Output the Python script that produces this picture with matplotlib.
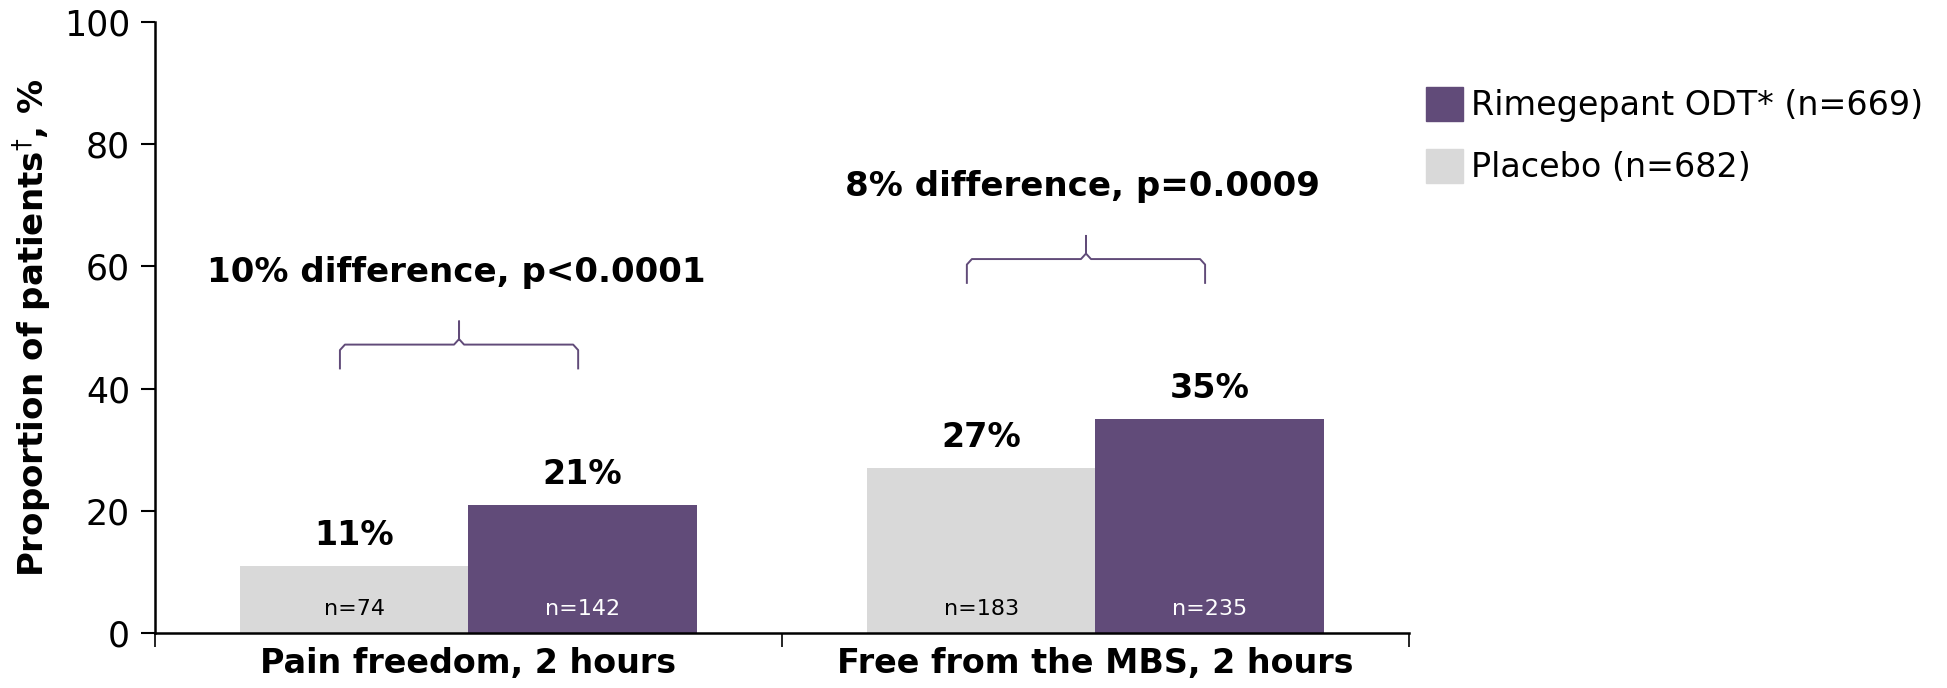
import matplotlib.pyplot as plt
import numpy as np
from matplotlib.patches import Patch

categories = ["Pain freedom, 2 hours", "Free from the MBS, 2 hours"]
placebo = [11, 27]
rimegepant = [21, 35]
placebo_n = [74, 183]
rimegepant_n = [142, 235]
diff_labels = ["10% difference, p<0.0001", "8% difference, p=0.0009"]

purple = "#614B79"
grey = "#D9D9D9"

plt.rcParams['font.family'] = 'DejaVu Sans'

fig = plt.figure(figsize=(19.47, 6.88), dpi=100)
ax = fig.add_axes([0.0796, 0.080, 0.644, 0.888])

x = np.arange(len(categories))
w = 0.364
ax.bar(x - w / 2, placebo, w, color=grey)
ax.bar(x + w / 2, rimegepant, w, color=purple)

for i in range(len(categories)):
    ax.text(x[i] - w / 2, placebo[i] + 5, f"{placebo[i]}%", ha='center', va='center',
            fontsize=24, fontweight='bold')
    ax.text(x[i] + w / 2, rimegepant[i] + 5, f"{rimegepant[i]}%", ha='center', va='center',
            fontsize=24, fontweight='bold')
    ax.text(x[i] - w / 2, 4, f"n={placebo_n[i]}", ha='center', va='center', fontsize=16)
    ax.text(x[i] + w / 2, 4, f"n={rimegepant_n[i]}", ha='center', va='center', fontsize=16,
            color='white')

    # curly brace over the pair of bars
    top = max(placebo[i], rimegepant[i])
    yb, yh, yp = top + 22.3, top + 26.2, top + 30
    xl, xr, xm = x[i] - 0.205, x[i] + 0.175, x[i] - 0.015
    r = 0.008
    bx = [xl, xl, xl + r, xm - r, xm, xm, xm, xm + r, xr - r, xr, xr]
    by = [yb, yh - 0.9, yh, yh, yh + 0.9, yp, yh + 0.9, yh, yh, yh - 0.9, yb]
    ax.plot(bx, by, color=purple, lw=1.4)
    ax.text(x[i] - 0.02, top + 38, diff_labels[i], ha='center', va='center',
            fontsize=24.5, fontweight='bold')

ax.set_xlim(-0.5, 1.5)
ax.set_ylim(0, 100)
ax.set_yticks([0, 20, 40, 60, 80, 100])
ax.tick_params(axis='y', labelsize=25, direction='out', length=10, width=1.5, pad=8)
ax.set_xticks(x)
ax.set_xticklabels(categories, fontsize=24, fontweight='bold')
ax.tick_params(axis='x', length=0, pad=10)
ax.set_xticks([-0.5, 0.5, 1.5], minor=True)
ax.tick_params(axis='x', which='minor', length=10, width=1.2, direction='out')
ax.set_ylabel("Proportion of patients$^{\\dagger}$, %", fontsize=24.5, fontweight='bold', labelpad=8)

for s in ['top', 'right']:
    ax.spines[s].set_visible(False)
ax.spines['left'].set_linewidth(1.8)
ax.spines['bottom'].set_linewidth(1.8)

handles = [Patch(color=purple), Patch(color=grey)]
fig.legend(handles, ["Rimegepant ODT* (n=669)", "Placebo (n=682)"], loc='upper left',
           bbox_to_anchor=(0.7325, 0.874), frameon=False, fontsize=24,
           handlelength=1.1, handleheight=1.2, handletextpad=0.25, labelspacing=0.8,
           borderpad=0, borderaxespad=0)

fig.savefig("out.png", dpi=100)
